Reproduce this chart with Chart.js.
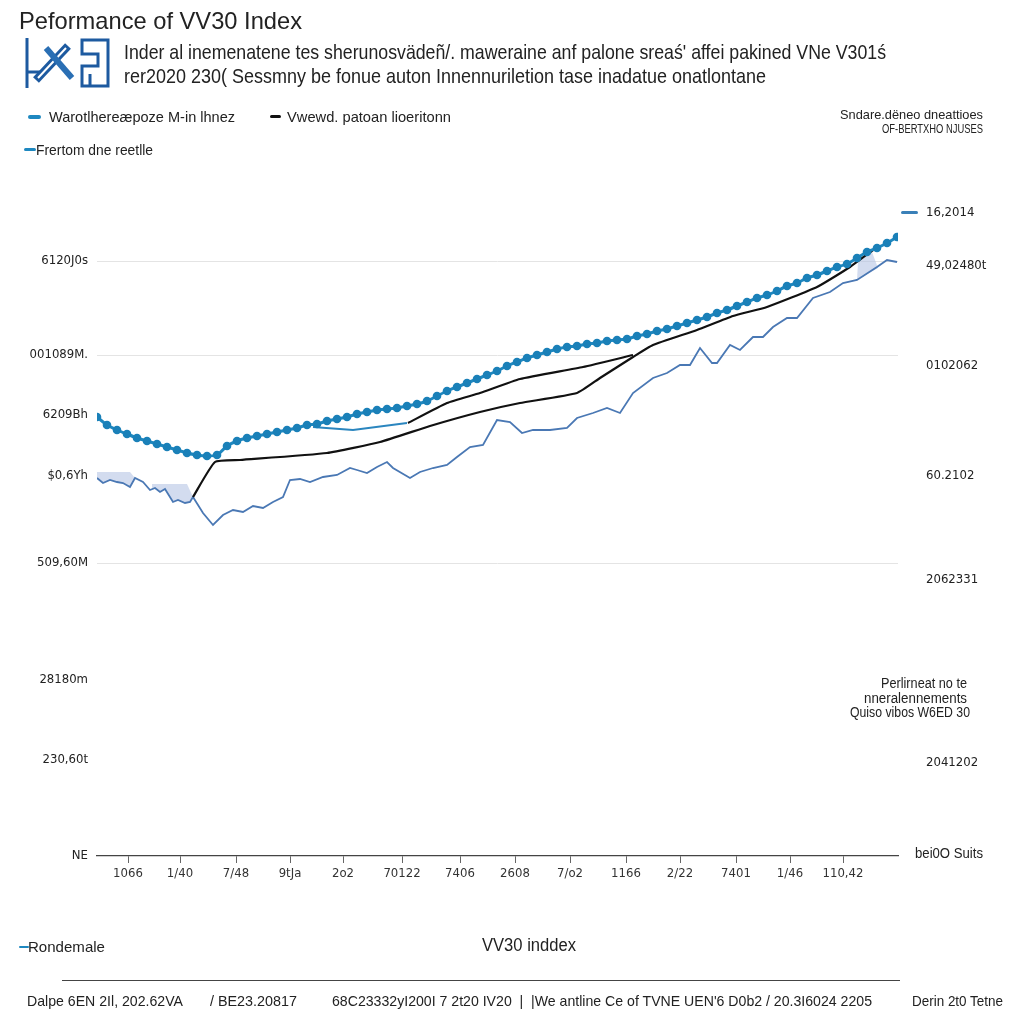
<!DOCTYPE html>
<html>
<head>
<meta charset="utf-8">
<script src="https://cdn.jsdelivr.net/npm/chart.js@4.4.1/dist/chart.umd.min.js"></script>
<style>
  body { margin: 0; background: #fff; }
  #wrap { position: relative; width: 1024px; height: 1024px; overflow: hidden; font-family: 'Liberation Sans', Arial, sans-serif; color: #222; }
  #wrap canvas { position: absolute; left: 0; top: 0; }
  .t { position: absolute; white-space: nowrap; line-height: 1; transform-origin: 0 0; }
  .mk { position: absolute; height: 4px; border-radius: 2px; }
</style>
</head>
<body>
<div id="wrap">
  <canvas id="myChart" width="1024" height="1024"></canvas>

  <div class="t" data-w="283" style="left:19px;top:9px;font-size:24px;">Peformance of VV30 Index</div>
  <svg style="position:absolute;left:22px;top:36px" width="92" height="54" viewBox="0 0 92 54">
    <path d="M5 2 V52 M5 36 H22" stroke="#1d5aa0" stroke-width="3" fill="none"/>
    <path d="M14 44 L46 10" stroke="#1d5aa0" stroke-width="8" fill="none"/>
    <path d="M16 42 L44 12" stroke="#fff" stroke-width="2" fill="none"/>
    <path d="M24 12 L50 42" stroke="#2a6fb4" stroke-width="6" fill="none"/>
    <path d="M60 4 H86 V50 H60 V30 H76 V18 H60 Z M68 38 V50" fill="none" stroke="#1d5aa0" stroke-width="3"/>
  </svg>
  <div class="t" data-w="762" style="left:124px;top:41px;font-size:21px;">Inder al inemenatene tes sherunosvädeñ/. maweraine anf palone sreaś' affei pakined VNe V301ś</div>
  <div class="t" data-w="642" style="left:124px;top:65px;font-size:21px;">rer2020 230( Sessmny be fonue auton Innennuriletion tase inadatue onatlontane</div>

  <div class="mk" style="left:28px;top:115px;width:13px;background:#1e88c0;"></div>
  <div class="t" data-w="186" style="left:49px;top:109px;font-size:15px;">Warotlhereæpoze M-in lhnez</div>
  <div class="mk" style="left:270px;top:115px;width:11px;height:3px;background:#111;"></div>
  <div class="t" data-w="164" style="left:287px;top:109px;font-size:15px;">Vwewd. patoan lioeritonn</div>
  <div class="mk" style="left:24px;top:148px;width:12px;height:3px;background:#1e88c0;"></div>
  <div class="t" data-w="117" style="left:36px;top:142px;font-size:15px;">Frertom dne reetlle</div>

  <div class="t" data-w="143" style="left:840px;top:108px;font-size:13px;">Sndare.dëneo dneattioes</div>
  <div class="t" data-w="101" style="left:882px;top:123px;font-size:12px;">OF-BERTXHO NJUSES</div>

  <div class="mk" style="left:901px;top:211px;width:17px;height:3px;background:#3a80b8;"></div>

  <div class="t" data-w="86" style="left:881px;top:676px;font-size:14px;">Perlirneat no te</div>
  <div class="t" data-w="103" style="left:864px;top:691px;font-size:14px;">nneralennements</div>
  <div class="t" data-w="120" style="left:850px;top:705px;font-size:14px;">Quiso vibos W6ED 30</div>

  <div class="t" data-w="68" style="left:915px;top:846px;font-size:14px;">bei0O Suits</div>

  <div class="mk" style="left:19px;top:946px;width:10px;height:2px;background:#1e88c0;"></div>
  <div class="t" data-w="77" style="left:28px;top:939px;font-size:15px;">Rondemale</div>
  <div class="t" data-w="94" style="left:482px;top:936px;font-size:18px;">VV30 inddex</div>
  <div style="position:absolute;left:62px;top:980px;width:838px;height:1px;background:#444;"></div>
  <div class="t" data-w="156" style="left:27px;top:993px;font-size:15px;">Dalpe 6EN 2Il, 202.62VA</div>
  <div class="t" data-w="87" style="left:210px;top:993px;font-size:15px;">/ BE23.20817</div>
  <div class="t" data-w="540" style="left:332px;top:993px;font-size:15px;">68C23332yI200I 7 2t20 IV20 &nbsp;| &nbsp;|We antline Ce of TVNE UEN'6 D0b2 / 20.3I6024 2205</div>
  <div class="t" data-w="91" style="left:912px;top:993px;font-size:15px;">Derin 2t0 Tetne</div>
</div>

<script>
// sessions on the x axis, index level on the y axis

// smoothed trend (dotted teal)
const trendSessions = [0,10,20,30,40,50,60,70,80,90,100,110,120,130,140,150,160,170,180,190,200,210,220,230,240,250,260,270,280,290,300,310,320,330,340,350,360,370,380,390,400,410,420,430,440,450,460,470,480,490,500,510,520,530,540,550,560,570,580,590,600,610,620,630,640,650,660,670,680,690,700,710,720,730,740,750,760,770,780,790,800];
const trendValues = [439,431,426,422,418,415,412,409,406,403,
  401,400,401,410,415,418,420,422,424,426,
  428,431,432,435,437,439,442,444,446,447,
  448,450,452,455,460,465,469,473,477,481,
  485,490,494,498,501,504,507,509,510,512,
  513,515,516,517,520,522,525,527,530,533,
  536,539,543,546,550,554,558,561,565,570,
  573,578,581,585,589,592,598,604,608,613,
  619];

// short teal branch under the trend
const branchSessions = [216,256,310];
const branchValues = [429,426,433];

// VV30 daily index (thin blue)
const indexSessions = [0,6,13,20,26,33,38,46,53,58,63,68,76,81,88,93,96,106,116,126,136,146,156,166,176,186,193,203,213,226,240,253,260,270,280,290,
  296,313,323,336,350,360,373,386,400,413,425,436,453,470,480,496,510,523,536,556,570,583,593,603,615,620,633,643,656,666,676,690,700,716,733,746,760,780,790,800];
const indexValues = [378,373,376,374,373,369,378,374,366,368,364,367,354,356,353,354,359,343,331,341,346,344,350,348,354,359,376,377,374,379,381,388,386,383,389,394,
  388,378,384,388,391,399,409,411,436,434,423,426,426,428,438,443,448,443,463,478,483,491,491,508,493,493,511,506,519,519,529,538,538,558,564,573,576,589,596,594];

// benchmark (black)
const benchSessions = [96,118,143,230,283,333,383,423,480,503,536,556,600,636,670,720,753,776];
const benchValues = [359,394,396,403,414,430,444,453,463,478,499,511,526,540,549,569,589,606];
const bench2Sessions = [311,350,383,423,486,536];
const bench2Values = [433,453,463,477,489,501];

// shaded gaps (outline points)
const shadeA = [[0,384],[33,384],[38,378],[33,369],[26,373],[20,374],[13,376],[6,373],[0,378]];
const shadeB = [[55,372],[90,372],[96,359],[93,354],[88,353],[81,356],[76,354],[68,367],[63,364],[58,368],[55,367]];
const shadeC = [[761,594],[775,604],[781,588],[760,576]];

// axis ticks
const xTickPos = [31,83,139,193,246,305,363,418,473,529,583,639,693,746];
const xTickLabels = ['1066','1/40','7/48','9tJa','2o2','70122','7406','2608','7/o2','1166','2/22','7401','1/46','110,42'];
const leftTickPos = [595,501,441,380,293,176,96,0];
const leftTickLabels = ['6120J0s','001089M.','6209Bh','$0,6Yh','509,60M','28180m','230,60t','NE'];
const gridPos = [595,501,293];
const rightTickPos = [643,590,490,380,276,93];
const rightTickLabels = ['16,2014','49,02480t','0102062','60.2102','2062331','2041202'];

function pts(xs, ys) { return xs.map((x, i) => ({x: x, y: ys[i]})); }
function poly(p) { return p.map(q => ({x: q[0], y: q[1]})); }

const tickFont = { family: "'DejaVu Sans Condensed', 'Liberation Sans', sans-serif", size: 13 };
const shadeColor = 'rgba(175,192,225,0.55)';

// squeeze overlay texts to the widths they take in the picture
document.querySelectorAll('.t[data-w]').forEach(el => {
  const w = el.getBoundingClientRect().width;
  el.style.transform = 'scaleX(' + (parseFloat(el.dataset.w) / w) + ')';
});

const myChart = new Chart('myChart', {
  type: 'line',
  data: {
    datasets: [
      { data: pts(trendSessions, trendValues), borderColor: '#1e88c0', backgroundColor: '#1a80b8',
        borderWidth: 3, pointRadius: 4.3, pointBorderWidth: 0, tension: 0.2, order: 1 },
      { data: pts(branchSessions, branchValues), borderColor: '#2b86bf', borderWidth: 2, pointRadius: 0, order: 2 },
      { data: pts(benchSessions, benchValues), borderColor: '#111', borderWidth: 2.2, pointRadius: 0, tension: 0.15, order: 3 },
      { data: pts(bench2Sessions, bench2Values), borderColor: '#111', borderWidth: 2.2, pointRadius: 0, tension: 0.15, order: 3 },
      { data: pts(indexSessions, indexValues), borderColor: '#4a78b4', borderWidth: 1.8, pointRadius: 0, order: 4 },
      { data: poly(shadeA), borderWidth: 0, pointRadius: 0, fill: 'shape', backgroundColor: shadeColor, order: 5 },
      { data: poly(shadeB), borderWidth: 0, pointRadius: 0, fill: 'shape', backgroundColor: shadeColor, order: 5 },
      { data: poly(shadeC), borderWidth: 0, pointRadius: 0, fill: 'shape', backgroundColor: shadeColor, order: 5 }
    ]
  },
  options: {
    responsive: false,
    animation: false,
    devicePixelRatio: 1,
    layout: { padding: { top: 200, left: 0, right: 0, bottom: 0 } },
    plugins: { legend: { display: false }, tooltip: { enabled: false } },
    elements: { line: { fill: false } },
    scales: {
      x: {
        type: 'linear', min: 0, max: 801,
        afterBuildTicks: s => { s.ticks = xTickPos.map(v => ({ value: v })); },
        afterFit: s => { s.height = 168; },
        ticks: { autoSkip: false, maxRotation: 0, padding: 3, color: '#333', font: tickFont,
          callback: (v, i) => xTickLabels[i] },
        grid: { drawOnChartArea: false, drawTicks: true, tickLength: 7, color: '#666' },
        border: { display: true, color: '#444', width: 1.3 }
      },
      y: {
        position: 'left', min: 0, max: 656,
        afterBuildTicks: s => { s.ticks = leftTickPos.map(v => ({ value: v })); },
        afterFit: s => { s.width = 97; },
        ticks: { autoSkip: false, padding: 9, color: '#222', font: tickFont,
          callback: (v, i) => leftTickLabels[i] },
        grid: { drawTicks: false, color: c => gridPos.includes(c.tick.value) ? '#e4e4e4' : 'rgba(0,0,0,0)' },
        border: { display: false }
      },
      y2: {
        position: 'right', min: 0, max: 656,
        afterBuildTicks: s => { s.ticks = rightTickPos.map(v => ({ value: v })); },
        afterFit: s => { s.width = 126; },
        ticks: { autoSkip: false, padding: 20, color: '#222', font: tickFont,
          callback: (v, i) => rightTickLabels[i] },
        grid: { display: false },
        border: { display: false }
      }
    }
  }
});
</script>
</body>
</html>
